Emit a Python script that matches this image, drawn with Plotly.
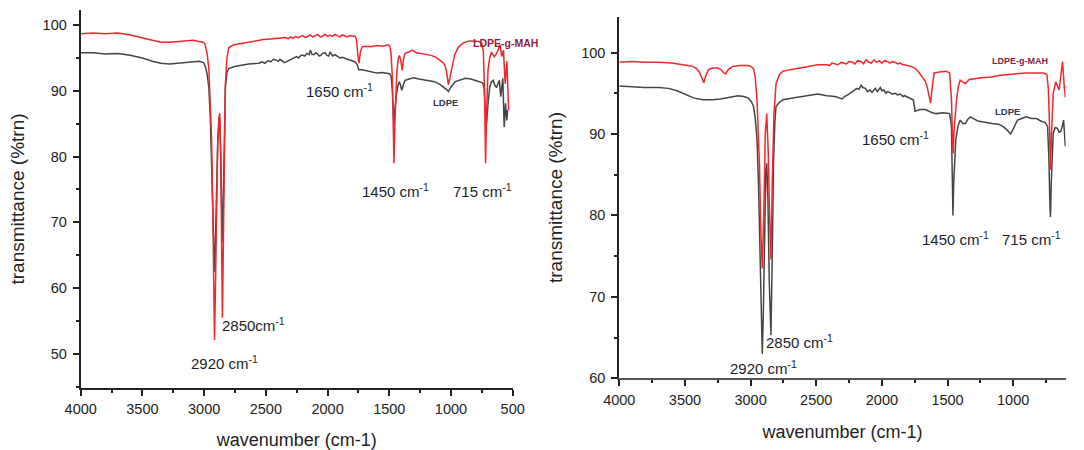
import plotly.graph_objects as go

# FTIR spectra: (wavenumber cm-1, transmittance %) pairs for each sample / panel

# Panel (a)
ldpe_a = [
    (4000, 95.8), (3900, 95.8), (3800, 95.6), (3700, 95.7), (3600, 95.4), (3500, 95.0),
    (3420, 94.5), (3350, 94.2), (3280, 94.1), (3220, 94.2), (3150, 94.4), (3090, 94.5),
    (3040, 94.5), (3005, 94.3), (2990, 93.7), (2975, 92.5), (2962, 90.5), (2950, 86.0),
    (2940, 80.0), (2930, 72.0), (2922, 66.0), (2916, 62.5), (2910, 66.0), (2900, 75.0),
    (2890, 82.0), (2880, 85.5), (2874, 86.0), (2866, 81.0), (2858, 72.0), (2852, 67.0),
    (2846, 72.0), (2838, 83.0), (2828, 90.5), (2815, 92.8), (2800, 93.4), (2754, 93.7),
    (2700, 93.9), (2640, 94.1), (2558, 94.2), (2530, 94.4), (2510, 94.2), (2480, 94.6),
    (2460, 94.4), (2440, 94.8), (2419, 94.7), (2400, 94.5), (2385, 94.8), (2370, 94.6),
    (2350, 94.3), (2335, 94.4), (2315, 94.6), (2290, 94.8), (2270, 95.0), (2251, 95.2),
    (2235, 95.0), (2215, 95.4), (2200, 95.4), (2185, 95.3), (2167, 95.7), (2150, 95.5),
    (2139, 96.2), (2128, 95.6), (2110, 95.5), (2095, 95.8), (2080, 95.6), (2068, 95.3),
    (2055, 95.4), (2040, 95.7), (2020, 95.8), (2005, 95.4), (1990, 95.3), (1980, 95.9),
    (1972, 95.7), (1958, 95.3), (1940, 95.5), (1920, 95.2), (1900, 95.0), (1880, 95.1),
    (1860, 94.9), (1840, 94.8), (1820, 94.7), (1800, 94.6), (1776, 94.4), (1760, 94.0),
    (1748, 93.2), (1720, 93.2), (1692, 93.1), (1660, 92.9), (1636, 92.9), (1600, 92.7),
    (1560, 92.8), (1497, 92.6), (1485, 92.2), (1475, 90.0), (1467, 86.5), (1462, 85.0),
    (1456, 87.0), (1448, 89.0), (1441, 89.6), (1430, 90.8), (1418, 91.4), (1408, 90.8),
    (1399, 90.1), (1385, 91.0), (1371, 91.6), (1340, 91.8), (1301, 92.0), (1260, 91.8),
    (1217, 91.7), (1175, 91.5), (1133, 91.4), (1090, 91.0), (1049, 90.5), (1035, 90.2),
    (1021, 89.9), (1000, 90.6), (966, 91.4), (920, 91.7), (882, 91.9), (840, 91.8),
    (798, 91.6), (770, 91.4), (742, 91.2), (732, 90.5), (722, 87.0), (712, 85.0),
    (700, 88.0), (686, 90.6), (672, 91.4), (658, 91.6), (644, 90.8), (630, 90.5),
    (618, 91.2), (608, 91.6), (597, 89.1), (588, 90.5), (580, 91.9), (569, 84.5),
    (558, 88.1), (548, 85.5), (541, 87.1),
]

mah_a = [
    (4000, 98.7), (3900, 98.8), (3800, 98.7), (3700, 98.8), (3600, 98.5), (3500, 98.1),
    (3420, 97.7), (3350, 97.4), (3280, 97.4), (3220, 97.5), (3150, 97.7), (3090, 97.7),
    (3040, 97.5), (3005, 97.4), (2990, 96.9), (2975, 95.5), (2962, 93.5), (2950, 89.0),
    (2940, 83.0), (2930, 72.0), (2922, 60.0), (2916, 52.1), (2910, 58.0), (2900, 72.0),
    (2890, 82.0), (2880, 86.0), (2874, 86.6), (2866, 80.0), (2858, 65.0), (2852, 55.5),
    (2846, 64.0), (2838, 80.0), (2828, 91.0), (2815, 95.0), (2800, 96.6), (2760, 97.0),
    (2700, 97.2), (2640, 97.5), (2580, 97.7), (2520, 97.8), (2460, 97.9), (2400, 98.0),
    (2340, 98.1), (2320, 97.9), (2300, 98.2), (2280, 98.0), (2260, 98.3), (2240, 98.1),
    (2220, 98.2), (2200, 98.4), (2180, 98.1), (2160, 98.3), (2140, 98.5), (2120, 98.2),
    (2100, 98.4), (2080, 98.6), (2060, 98.2), (2040, 98.3), (2020, 98.6), (2000, 98.3),
    (1980, 98.5), (1960, 98.3), (1940, 98.6), (1920, 98.4), (1900, 98.2), (1880, 98.5),
    (1860, 98.4), (1840, 98.2), (1820, 98.4), (1800, 98.3), (1776, 98.3), (1765, 97.8),
    (1755, 95.5), (1745, 94.2), (1735, 95.8), (1720, 96.7), (1690, 96.8), (1650, 96.7),
    (1600, 96.9), (1550, 96.8), (1510, 97.0), (1495, 96.8), (1485, 95.6), (1475, 92.0),
    (1467, 84.0), (1462, 79.0), (1456, 84.0), (1448, 90.0), (1440, 92.5), (1428, 94.8),
    (1418, 95.4), (1405, 94.5), (1395, 93.1), (1385, 94.8), (1371, 95.7), (1340, 95.9),
    (1315, 96.2), (1280, 95.8), (1245, 95.7), (1200, 95.6), (1161, 95.4), (1120, 95.1),
    (1091, 94.7), (1065, 94.3), (1049, 93.9), (1035, 92.8), (1021, 90.9), (1008, 92.2),
    (994, 93.4), (970, 95.5), (938, 96.7), (900, 97.3), (854, 97.6), (810, 97.6),
    (770, 97.5), (750, 97.2), (738, 96.0), (728, 90.0), (720, 79.0), (712, 86.0),
    (700, 93.2), (686, 95.0), (672, 95.9), (650, 95.2), (630, 95.7), (615, 96.4),
    (602, 97.0), (589, 95.2), (575, 96.2), (561, 91.1), (547, 94.5), (533, 87.1),
]

# Panel (b)
ldpe_b = [
    (4000, 95.9), (3900, 95.8), (3810, 95.7), (3700, 95.7), (3626, 95.6), (3560, 95.3),
    (3494, 94.8), (3430, 94.4), (3361, 94.2), (3290, 94.2), (3229, 94.3), (3160, 94.5),
    (3097, 94.7), (3050, 94.6), (3017, 94.4), (2995, 94.0), (2978, 93.4), (2965, 92.0),
    (2951, 89.3), (2940, 84.0), (2930, 76.0), (2920, 66.0), (2911, 63.0), (2903, 68.0),
    (2893, 80.0), (2884, 85.5), (2877, 86.4), (2868, 82.0), (2858, 72.0), (2845, 65.3),
    (2836, 74.0), (2826, 86.0), (2815, 91.5), (2806, 93.4), (2780, 93.9), (2753, 94.2),
    (2690, 94.4), (2621, 94.6), (2550, 94.8), (2488, 94.9), (2420, 94.7), (2356, 94.6),
    (2303, 94.3), (2285, 94.6), (2260, 94.8), (2240, 95.0), (2224, 95.2), (2205, 95.4),
    (2190, 95.6), (2175, 95.5), (2158, 96.0), (2145, 95.7), (2125, 95.6), (2110, 95.2),
    (2091, 95.4), (2075, 95.1), (2060, 95.5), (2050, 95.6), (2035, 95.2), (2012, 95.7),
    (2000, 95.3), (1985, 95.4), (1970, 95.0), (1959, 95.2), (1940, 95.1), (1920, 94.9),
    (1900, 95.0), (1880, 94.8), (1860, 94.9), (1840, 94.6), (1827, 94.7), (1780, 94.4),
    (1761, 94.2), (1752, 93.3), (1748, 92.8), (1710, 93.0), (1669, 93.0), (1630, 92.7),
    (1589, 92.5), (1530, 92.6), (1484, 92.5), (1475, 91.5), (1470, 90.9), (1464, 85.0),
    (1459, 80.0), (1453, 84.0), (1445, 87.5), (1437, 89.3), (1420, 91.0), (1404, 91.7),
    (1385, 91.3), (1364, 91.3), (1345, 91.8), (1325, 92.1), (1270, 91.6), (1219, 91.5),
    (1160, 91.3), (1113, 91.2), (1075, 90.9), (1047, 90.5), (1030, 90.1), (1020, 90.0),
    (1000, 90.6), (967, 91.7), (935, 91.9), (901, 92.1), (860, 91.9), (822, 91.9),
    (790, 91.6), (756, 91.4), (738, 90.9), (728, 87.0), (720, 81.0), (716, 79.8),
    (710, 84.0), (702, 88.5), (695, 90.1), (680, 90.8), (663, 90.7), (650, 90.2),
    (637, 90.3), (625, 91.0), (616, 91.7), (609, 90.0), (603, 88.5),
]

mah_b = [
    (4000, 98.8), (3900, 98.9), (3810, 98.8), (3700, 98.8), (3600, 98.7), (3546, 98.6),
    (3480, 98.4), (3441, 98.3), (3410, 98.0), (3387, 97.5), (3370, 96.8), (3356, 96.3),
    (3340, 97.2), (3321, 97.9), (3290, 98.1), (3255, 98.1), (3225, 97.9), (3205, 97.5),
    (3189, 97.4), (3170, 97.9), (3136, 98.3), (3080, 98.4), (3017, 98.4), (2990, 98.2),
    (2978, 98.0), (2965, 97.0), (2951, 94.2), (2940, 90.0), (2932, 86.0), (2922, 78.0),
    (2911, 73.5), (2900, 80.0), (2888, 90.0), (2877, 92.5), (2866, 88.0), (2855, 80.0),
    (2845, 74.6), (2835, 84.0), (2822, 92.5), (2806, 96.2), (2780, 97.3), (2753, 97.7),
    (2700, 97.9), (2621, 98.1), (2550, 98.3), (2488, 98.5), (2420, 98.5), (2400, 98.4),
    (2380, 98.7), (2356, 98.6), (2335, 98.5), (2310, 98.8), (2290, 98.7), (2270, 98.6),
    (2250, 98.9), (2224, 98.8), (2205, 98.6), (2185, 99.0), (2160, 98.9), (2140, 98.6),
    (2120, 99.1), (2100, 98.8), (2080, 98.7), (2060, 99.1), (2040, 98.8), (2020, 99.0),
    (2000, 98.7), (1980, 99.0), (1959, 98.9), (1940, 98.7), (1920, 98.9), (1900, 98.8),
    (1880, 98.6), (1860, 98.7), (1840, 98.5), (1827, 98.5), (1780, 98.3), (1748, 98.1),
    (1720, 97.6), (1695, 97.1), (1670, 96.5), (1655, 95.8), (1640, 94.5), (1629, 93.8),
    (1618, 95.5), (1602, 97.5), (1560, 97.6), (1510, 97.7), (1484, 97.5), (1475, 95.5),
    (1470, 94.2), (1463, 90.0), (1457, 87.6), (1450, 90.5), (1440, 93.0), (1431, 94.2),
    (1418, 95.8), (1404, 96.6), (1385, 96.4), (1364, 96.2), (1335, 96.7), (1298, 96.8),
    (1240, 96.9), (1166, 97.0), (1100, 97.2), (1033, 97.3), (960, 97.4), (901, 97.5),
    (830, 97.5), (769, 97.5), (743, 97.3), (732, 95.5), (725, 92.0), (716, 85.6),
    (708, 90.0), (695, 95.0), (676, 96.4), (663, 95.8), (650, 95.4), (637, 97.1),
    (624, 98.9), (611, 95.8), (603, 94.5),
]

# Band labels: (text, wavenumber, transmittance) in data coordinates of each panel
bands_a = [
    ("1650 cm<sup>-1</sup>", 1907, 90.0),
    ("1450 cm<sup>-1</sup>", 1453, 74.9),
    ("715 cm<sup>-1</sup>", 748, 74.9),
    ("2850cm<sup>-1</sup>", 2596, 54.5),
    ("2920 cm<sup>-1</sup>", 2839, 48.7),
]
bands_b = [
    ("1650 cm<sup>-1</sup>", 1900, 89.5),
    ("1450 cm<sup>-1</sup>", 1443, 77.2),
    ("715 cm<sup>-1</sup>", 864, 77.2),
    ("2850 cm<sup>-1</sup>", 2624, 64.5),
    ("2920 cm<sup>-1</sup>", 2898, 61.3),
]
# Sample names: (text, wavenumber, transmittance, size, colour)
names_a = [("LDPE-g-MAH", 561, 97.3, 10.5, "#8a1d42"), ("LDPE", 1048, 88.3, 9.5, "#2e3650")]
names_b = [("LDPE-g-MAH", 948, 99.0, 9, "#8a1d42"), ("LDPE", 1047, 92.8, 9.5, "#2e3650")]

RED = "#f2262b"
GREY = "#454545"
FONT = "Liberation Sans, Arial, sans-serif"

fig = go.Figure()


def add_spectrum(pairs, color, xa, ya):
    fig.add_trace(go.Scatter(
        x=[p[0] for p in pairs], y=[p[1] for p in pairs], mode="lines",
        line=dict(color=color, width=1.5), xaxis=xa, yaxis=ya,
        showlegend=False, hoverinfo="skip",
    ))


add_spectrum(ldpe_a, GREY, "x", "y")
add_spectrum(mah_a, RED, "x", "y")
add_spectrum(ldpe_b, GREY, "x2", "y2")
add_spectrum(mah_b, RED, "x2", "y2")

for text, wn, t in bands_a:
    fig.add_annotation(x=wn, y=t, xref="x", yref="y", text=text, showarrow=False,
                       font=dict(family=FONT, size=15, color="#1e1e28"))
for text, wn, t in bands_b:
    fig.add_annotation(x=wn, y=t, xref="x2", yref="y2", text=text, showarrow=False,
                       font=dict(family=FONT, size=15, color="#1e1e28"))
for text, wn, t, sz, col in names_a:
    fig.add_annotation(x=wn, y=t, xref="x", yref="y", text="<b>%s</b>" % text,
                       showarrow=False, font=dict(family=FONT, size=sz, color=col))
for text, wn, t, sz, col in names_b:
    fig.add_annotation(x=wn, y=t, xref="x2", yref="y2", text="<b>%s</b>" % text,
                       showarrow=False, font=dict(family=FONT, size=sz, color=col))

W, H = 1084, 450
tickfont = dict(family=FONT, size=14.5, color="#222")
titlefont = dict(family=FONT, size=18, color="#222")


def xax(domain, rng, tvals, linecolor, anchor, standoff):
    return dict(
        domain=domain, range=rng, anchor=anchor, automargin=False,
        showgrid=False, zeroline=False,
        showline=True, linecolor=linecolor, linewidth=2,
        ticks="outside", ticklen=6, tickwidth=2, tickcolor="#222",
        tickvals=tvals, tickfont=tickfont, ticklabelstandoff=1,
        minor=dict(dtick=250, ticks="outside", ticklen=3, tickwidth=2, tickcolor="#222"),
        title=dict(text="wavenumber (cm-1)", font=titlefont, standoff=standoff),
    )


def yax(domain, rng, tvals, anchor, standoff):
    return dict(
        domain=domain, range=rng, anchor=anchor, automargin=False,
        showgrid=False, zeroline=False,
        showline=True, linecolor="#222", linewidth=2,
        ticks="outside", ticklen=6, tickwidth=2, tickcolor="#222",
        tickvals=tvals, tickfont=tickfont, ticklabelstandoff=3,
        minor=dict(dtick=5, ticks="outside", ticklen=3, tickwidth=2, tickcolor="#222"),
        title=dict(text="transmittance (%trn)", font=dict(family=FONT, size=19, color="#222"),
                   standoff=standoff),
    )


fig.update_layout(
    width=W, height=H, margin=dict(l=0, r=0, t=0, b=0, autoexpand=False),
    paper_bgcolor="white", plot_bgcolor="white",
    xaxis=xax([80.7 / W, 512.7 / W], [4000, 500],
              [4000, 3500, 3000, 2500, 2000, 1500, 1000, 500], "#222", "y", 17),
    yaxis=yax([1 - 388 / H, 1 - 10 / H], [44.8, 102.3], [50, 60, 70, 80, 90, 100], "x", 13),
    xaxis2=xax([619.3 / W, 1065.7 / W], [4000, 600],
               [4000, 3500, 3000, 2500, 2000, 1500, 1000], "#555", "y2", 19),
    yaxis2=yax([1 - 378.3 / H, 1 - 16.7 / H], [60, 104.4], [60, 70, 80, 90, 100], "x2", 14),
)

fig.write_html("out.html")
